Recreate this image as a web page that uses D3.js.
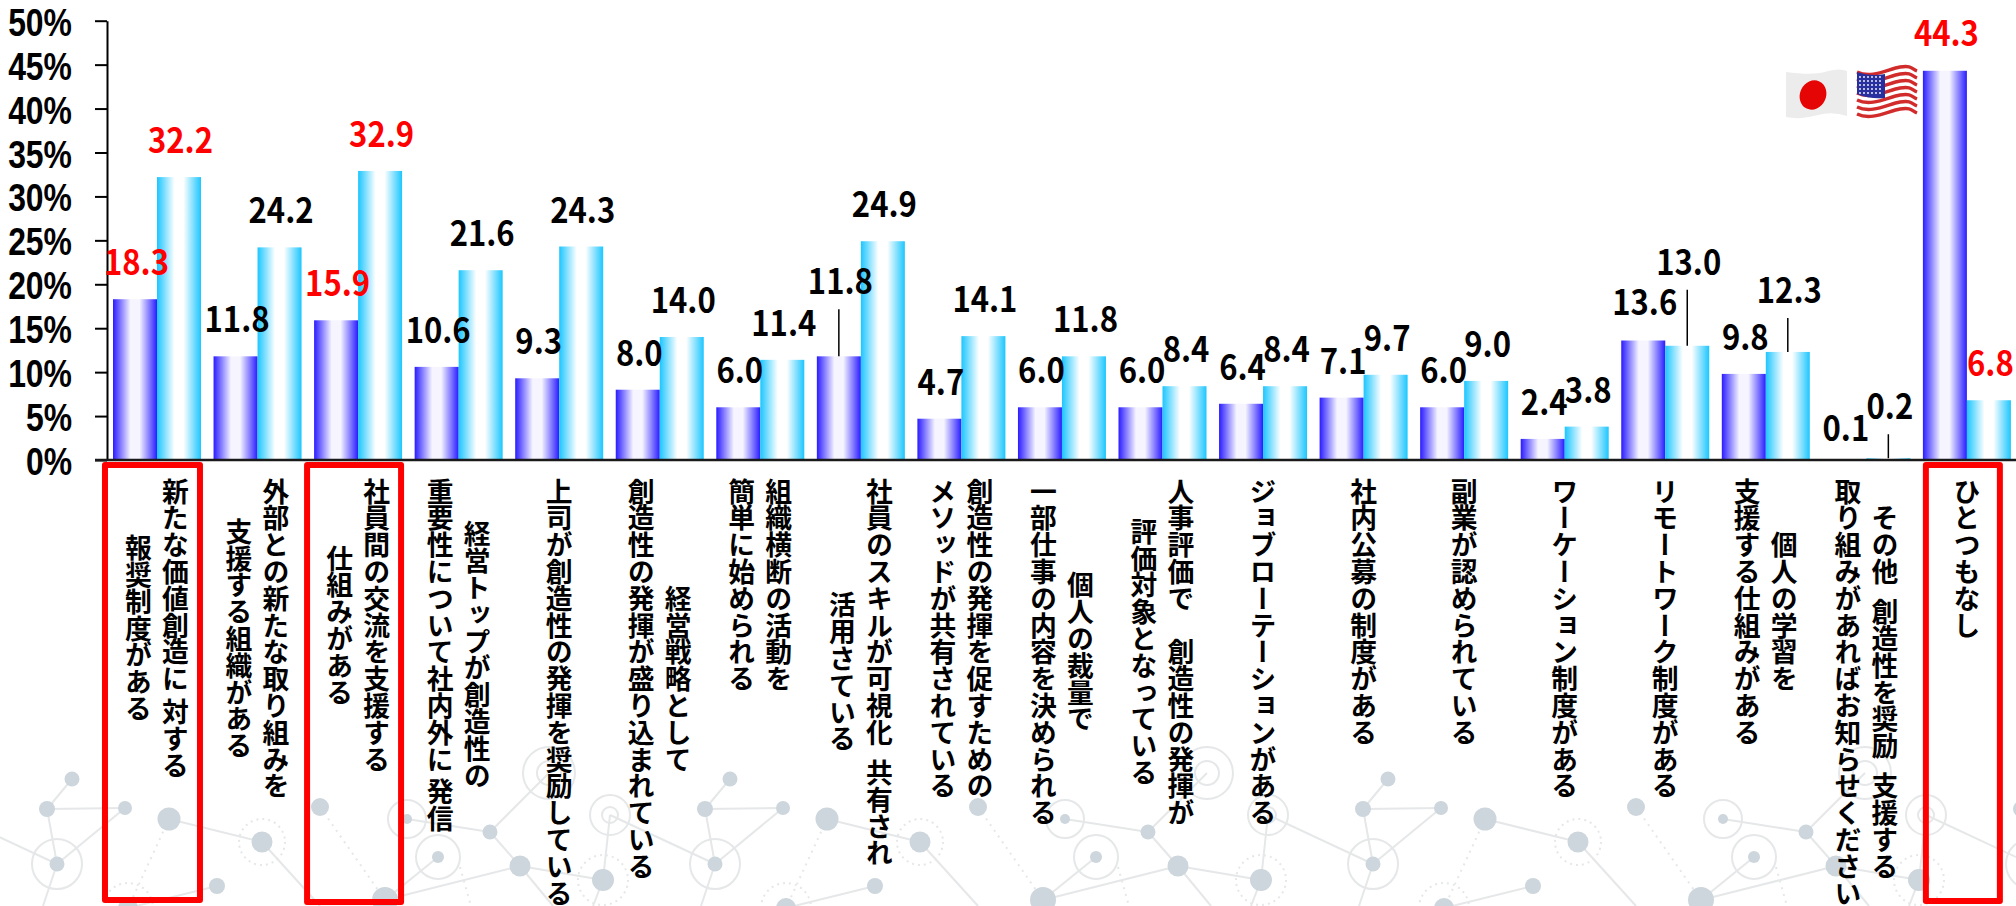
<!DOCTYPE html>
<html lang="ja"><head><meta charset="utf-8">
<style>html,body{margin:0;background:#fff}svg{display:block}</style>
<script src="https://cdnjs.cloudflare.com/ajax/libs/d3/7.8.5/d3.min.js"></script>
</head><body><div id="chart"></div>
<script>
const line1 = ["新たな価値創造に 対する","外部との新たな取り組みを","社員間の交流を支援する","経営トップが創造性の","上司が創造性の発揮を奨励している","経営戦略として","組織横断の活動を","社員のスキルが可視化\u2002共有され","創造性の発揮を促すための","個人の裁量で","人事評価で\u3000創造性の発揮が","ジョブローテーションがある","社内公募の制度がある","副業が認められている","ワーケーション制度がある","リモートワーク制度がある","個人の学習を","その他\u2002創造性を奨励\u2002支援する","ひとつもなし"];
const line2 = ["報奨制度がある","支援する組織がある","仕組みがある","重要性について社内外に\u2009発信","","創造性の発揮が盛り込まれている","簡単に始められる","活用さている","メソッドが共有されている","一部仕事の内容を決められる","評価対象となっている","","","","","","支援する仕組みがある","取り組みがあればお知らせください",""];
const japan = [18.3,11.8,15.9,10.6,9.3,8.0,6.0,11.8,4.7,6.0,6.0,6.4,7.1,6.0,2.4,13.6,9.8,0.1,44.3];
const usa   = [32.2,24.2,32.9,21.6,24.3,14.0,11.4,24.9,14.1,11.8,8.4,8.4,9.7,9.0,3.8,13.0,12.3,0.2,6.8];
const yTicks = [0,5,10,15,20,25,30,35,40,45,50];
const highlighted = [0,2,18];

// label layout
const leaderJp = {7:47};
const leaderUs = {15:56,16:34,17:24};
const nudgeJp = {15:1.5,17:-6,18:1};

const W=2016,H=906;
const svg=d3.select("#chart").append("svg").attr("width",W).attr("height",H);
const defs=svg.append("defs");
function grad(id,c,m){
  const g=defs.append("linearGradient").attr("id",id).attr("x1",0).attr("x2",1).attr("y1",0).attr("y2",0);
  [[0,c],[.4,m],[.6,m],[1,c]].forEach(([o,col])=>g.append("stop").attr("offset",o).attr("stop-color",col));
}
grad("gJp","#2a1cff","#f6f5ff");grad("gUs","#1cc6ff","#ffffff");

// ---- decorative network background (repeating tile)
const nodes=[[72,779,7.5],[47,809,8],[125,808,7],[169,819,11.5],[57,864,7.5],[262,842,10.5],[217,886,8],[320,807,9],[407,819,5],[490,832,7.5],[438,857,6],[520,866,10.5],[385,900,13],[603,880,11],[128,908,10]];
const rings=[[57,864,25,0],[262,842,23,1],[407,819,19,0],[438,857,22,0],[603,880,25,1],[549,773,26,0],[549,773,12,0],[610,815,20,0],[610,815,8,0],[128,908,25,1]];
const links=[[72,779,47,809,0],[47,809,125,808,0],[47,809,57,864,0],[125,808,57,864,0],[-48,815,57,864,0],[169,819,262,842,0],[169,819,128,908,1],[262,842,320,906,0],[128,908,217,886,0],[320,807,385,900,1],[407,819,490,832,0],[490,832,520,866,0],[490,832,549,773,0],[520,866,603,880,0],[385,900,520,866,0],[385,900,438,857,0],[603,880,610,815,0],[520,866,553,906,0],[603,880,593,906,0],[57,864,43,906,0],[460,867,471,906,1]];
const bg=svg.append("g");
for(let k=-1;k<=3;k++){
  const t=bg.append("g").attr("transform",`translate(${k*658},0)`);
  t.selectAll("line").data(links).join("line").attr("x1",d=>d[0]).attr("y1",d=>d[1]).attr("x2",d=>d[2]).attr("y2",d=>d[3])
    .attr("stroke","#e5e7e8").attr("stroke-width",2).attr("stroke-dasharray",d=>d[4]?"2 5":null);
  t.selectAll("circle.r").data(rings).join("circle").attr("class","r").attr("cx",d=>d[0]).attr("cy",d=>d[1]).attr("r",d=>d[2])
    .attr("fill","none").attr("stroke","#e5e7e8").attr("stroke-width",2).attr("stroke-dasharray",d=>d[3]?"2 4":null);
  t.selectAll("circle.n").data(nodes).join("circle").attr("class","n").attr("cx",d=>d[0]).attr("cy",d=>d[1]).attr("r",d=>d[2]).attr("fill","#cdd6dc");
}

// ---- scales
const x=d3.scaleBand().domain(d3.range(japan.length)).range([106.7,106.7+100.55*japan.length]);
const inner=d3.scaleBand().domain(["jp","us"]).range([6.3,94.3]);
const y=d3.scaleLinear().domain([0,50]).range([460,20.7]);

// ---- red frames
const frameL={0:-55,2:-54,18:-44}, frameR={0:46,2:46,18:36}, frameB={0:903,2:905,18:904};
svg.append("g").selectAll("rect").data(highlighted).join("rect")
  .attr("x",i=>x(i)+x.bandwidth()/2-6+frameL[i]+9)
  .attr("y",465).attr("width",i=>frameR[i]-frameL[i]-6).attr("height",i=>frameB[i]-3-465)
  .attr("fill","none").attr("stroke","#ff0000").attr("stroke-width",6).attr("stroke-linejoin","round");

// ---- bars
const bars=svg.append("g");
function drawBars(vals,key,fill){
  bars.selectAll("rect."+key).data(vals).join("rect").attr("class",key)
    .attr("x",(d,i)=>x(i)+inner(key)).attr("width",inner.bandwidth())
    .attr("y",d=>y(d)).attr("height",d=>y(0)-y(d)).attr("fill",fill);
}
drawBars(japan,"jp","url(#gJp)");drawBars(usa,"us","url(#gUs)");

// ---- axes
const fontNum="'Noto Sans CJK JP',sans-serif";
const ya=svg.append("g").attr("transform","translate(107,0)")
  .call(d3.axisLeft(y).tickValues(yTicks).tickFormat(d=>d+"%").tickSize(12).tickSizeOuter(0).tickPadding(0));
ya.selectAll("path,line").attr("stroke","#000").attr("stroke-width",2);
ya.selectAll("text").attr("font-family","'Liberation Sans',Arial,sans-serif").attr("font-size",38).attr("font-weight",700).attr("fill","#000")
  .attr("text-anchor","end").attr("dy",null).attr("dominant-baseline","central")
  .attr("x",null)
  .attr("transform","translate(-35,1) scale(.84,1)");
svg.append("line").attr("x1",95).attr("x2",W).attr("y1",y(0)).attr("y2",y(0)).attr("stroke","#1a1a1a").attr("stroke-width",2.5);

// ---- value labels
const labels=svg.append("g").attr("font-family",fontNum).attr("font-size",34.5).attr("font-weight",700).attr("text-anchor","middle");
function drawLabels(vals,key,leader,nudge){
  vals.forEach((v,i)=>{
    const cx=x(i)+inner(key)+inner.bandwidth()/2;
    const lift=leader[i]?leader[i]+15:24+(nudge[i]||0);
    labels.append("text").attr("transform",`translate(${cx+1.5},${y(v)-lift}) scale(.9,1)`)
      .attr("fill",highlighted.includes(i)?"#ff0000":"#000").text(v.toFixed(1));
    if(leader[i]) svg.append("line").attr("x1",cx).attr("x2",cx).attr("y1",y(v)).attr("y2",y(v)-leader[i]).attr("stroke","#000").attr("stroke-width",1.5);
  });
}
drawLabels(japan,"jp",leaderJp,nudgeJp);
drawLabels(usa,"us",leaderUs,{});

// ---- category labels (vertical)
const cat=svg.append("g").attr("font-family","'Noto Sans CJK JP'").attr("font-size",26.8).attr("font-weight",700).attr("fill","#000").attr("text-anchor","middle");
const top0=478;
japan.forEach((_,i)=>{
  const cx=x(i)+x.bandwidth()/2;
  const two=line2[i]!=="";
  const mk=(s,px)=>cat.append("text").attr("x",px).attr("y",0).style("writing-mode","vertical-rl").text(s);
  const a=mk(line1[i],two?cx+18.5:cx);
  const b=two?mk(line2[i],cx-18.5):null;
  const len=Math.max(a.node().getComputedTextLength(),b?b.node().getComputedTextLength():0);
  a.attr("y",top0+len/2); if(b) b.attr("y",top0+len/2);
});

// ---- flags
const fl=svg.append("g");
fl.append("path").attr("d","M1786 72 Q1815 76 1828 71 Q1840 68 1847 71 L1847 116 Q1832 111 1818 115 Q1800 120 1786 117 Z").attr("fill","#ececec");
fl.append("ellipse").attr("cx",1813).attr("cy",95).attr("rx",13).attr("ry",15).attr("transform","rotate(25 1813 95)").attr("fill","#e60505");
const stripes=d3.range(7);
fl.selectAll("path.s").data(stripes).join("path").attr("class","s")
  .attr("d",i=>{const b=72+i*7;return `M1857 ${b} C1872 ${b+7} 1888 ${b-3} 1900 ${b-5} S1912 ${b-3} 1917 ${b-1}`;})
  .attr("fill","none").attr("stroke","#d22b2b").attr("stroke-width",3.4);
fl.append("path").attr("d","M1857 72 C1866 75 1876 76 1885 74 L1885 98 C1876 99 1866 98 1857 94 Z").attr("fill","#27309e");
const dotX=d3.range(1860,1884,4),dotY=d3.range(77,95,4);
dotY.forEach(dy=>dotX.forEach(dx=>fl.append("circle").attr("cx",dx).attr("cy",dy).attr("r",.9).attr("fill","#fff")));
</script>
</body></html>
